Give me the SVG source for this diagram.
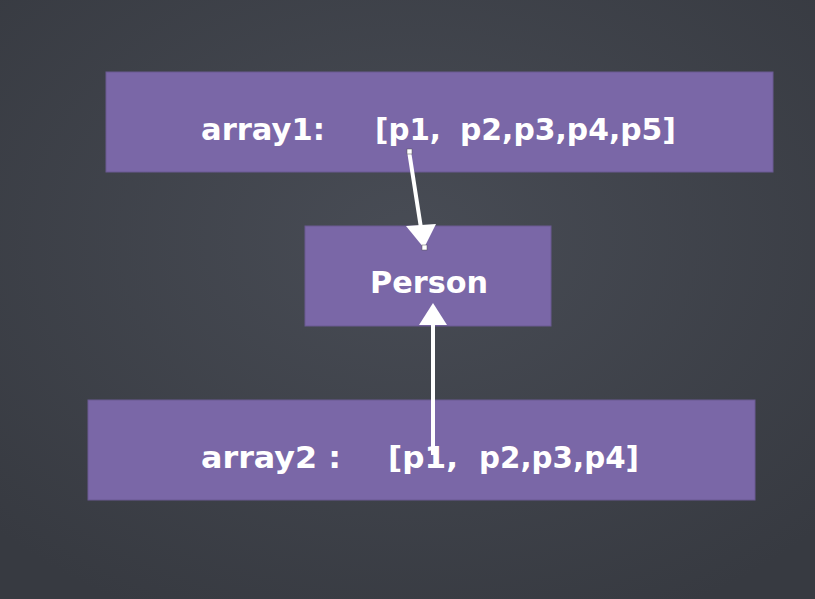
<svg xmlns="http://www.w3.org/2000/svg" width="815" height="599" viewBox="0 0 815 599">
<defs>
<style>
.box{fill:#7a67a7;stroke:#6a5a92;stroke-width:1}
.lbl{font-family:"DejaVu Sans","Liberation Sans",sans-serif;font-size:31px;font-weight:bold;fill:#ffffff}
.conn{stroke:#ffffff;stroke-width:4;fill:none}
</style>
<radialGradient id="bg" cx="50%" cy="40%" r="70%">
<stop offset="0" stop-color="#484c55"/>
<stop offset="1" stop-color="#373a41"/>
</radialGradient>
</defs>
<rect x="0" y="0" width="815" height="599" fill="url(#bg)"/>
<g id="array1">
<rect class="box" x="106" y="72" width="667" height="100"/>
<text class="lbl" y="140"><tspan x="201" textLength="124" lengthAdjust="spacingAndGlyphs">array1:</tspan><tspan x="375" textLength="66" lengthAdjust="spacingAndGlyphs">[p1,</tspan><tspan x="460" textLength="216" lengthAdjust="spacingAndGlyphs">p2,p3,p4,p5]</tspan></text>
</g>
<g id="person">
<rect class="box" x="305" y="226" width="246" height="100"/>
<text class="lbl" x="370" y="293" textLength="118" lengthAdjust="spacingAndGlyphs">Person</text>
</g>
<g id="array2">
<rect class="box" x="88" y="400" width="667" height="100"/>
<text class="lbl" y="468"><tspan x="201" textLength="140" lengthAdjust="spacingAndGlyphs">array2 :</tspan><tspan x="388" textLength="70" lengthAdjust="spacingAndGlyphs">[p1,</tspan><tspan x="479" textLength="160" lengthAdjust="spacingAndGlyphs">p2,p3,p4]</tspan></text>
</g>
<g id="connectors">
<line class="conn" x1="409" y1="151" x2="421" y2="228"/>
<polygon points="406,226 436,224 424,248" fill="#ffffff"/>
<line class="conn" x1="433" y1="455" x2="433" y2="322"/>
<polygon points="419,325 447,325 433,303" fill="#ffffff"/>
<rect x="407" y="149" width="5" height="5" fill="#ffffff" stroke="#555" stroke-width="0.5"/>
<rect x="422" y="245" width="5" height="5" fill="#ffffff" stroke="#555" stroke-width="0.5"/>
</g>
</svg>
